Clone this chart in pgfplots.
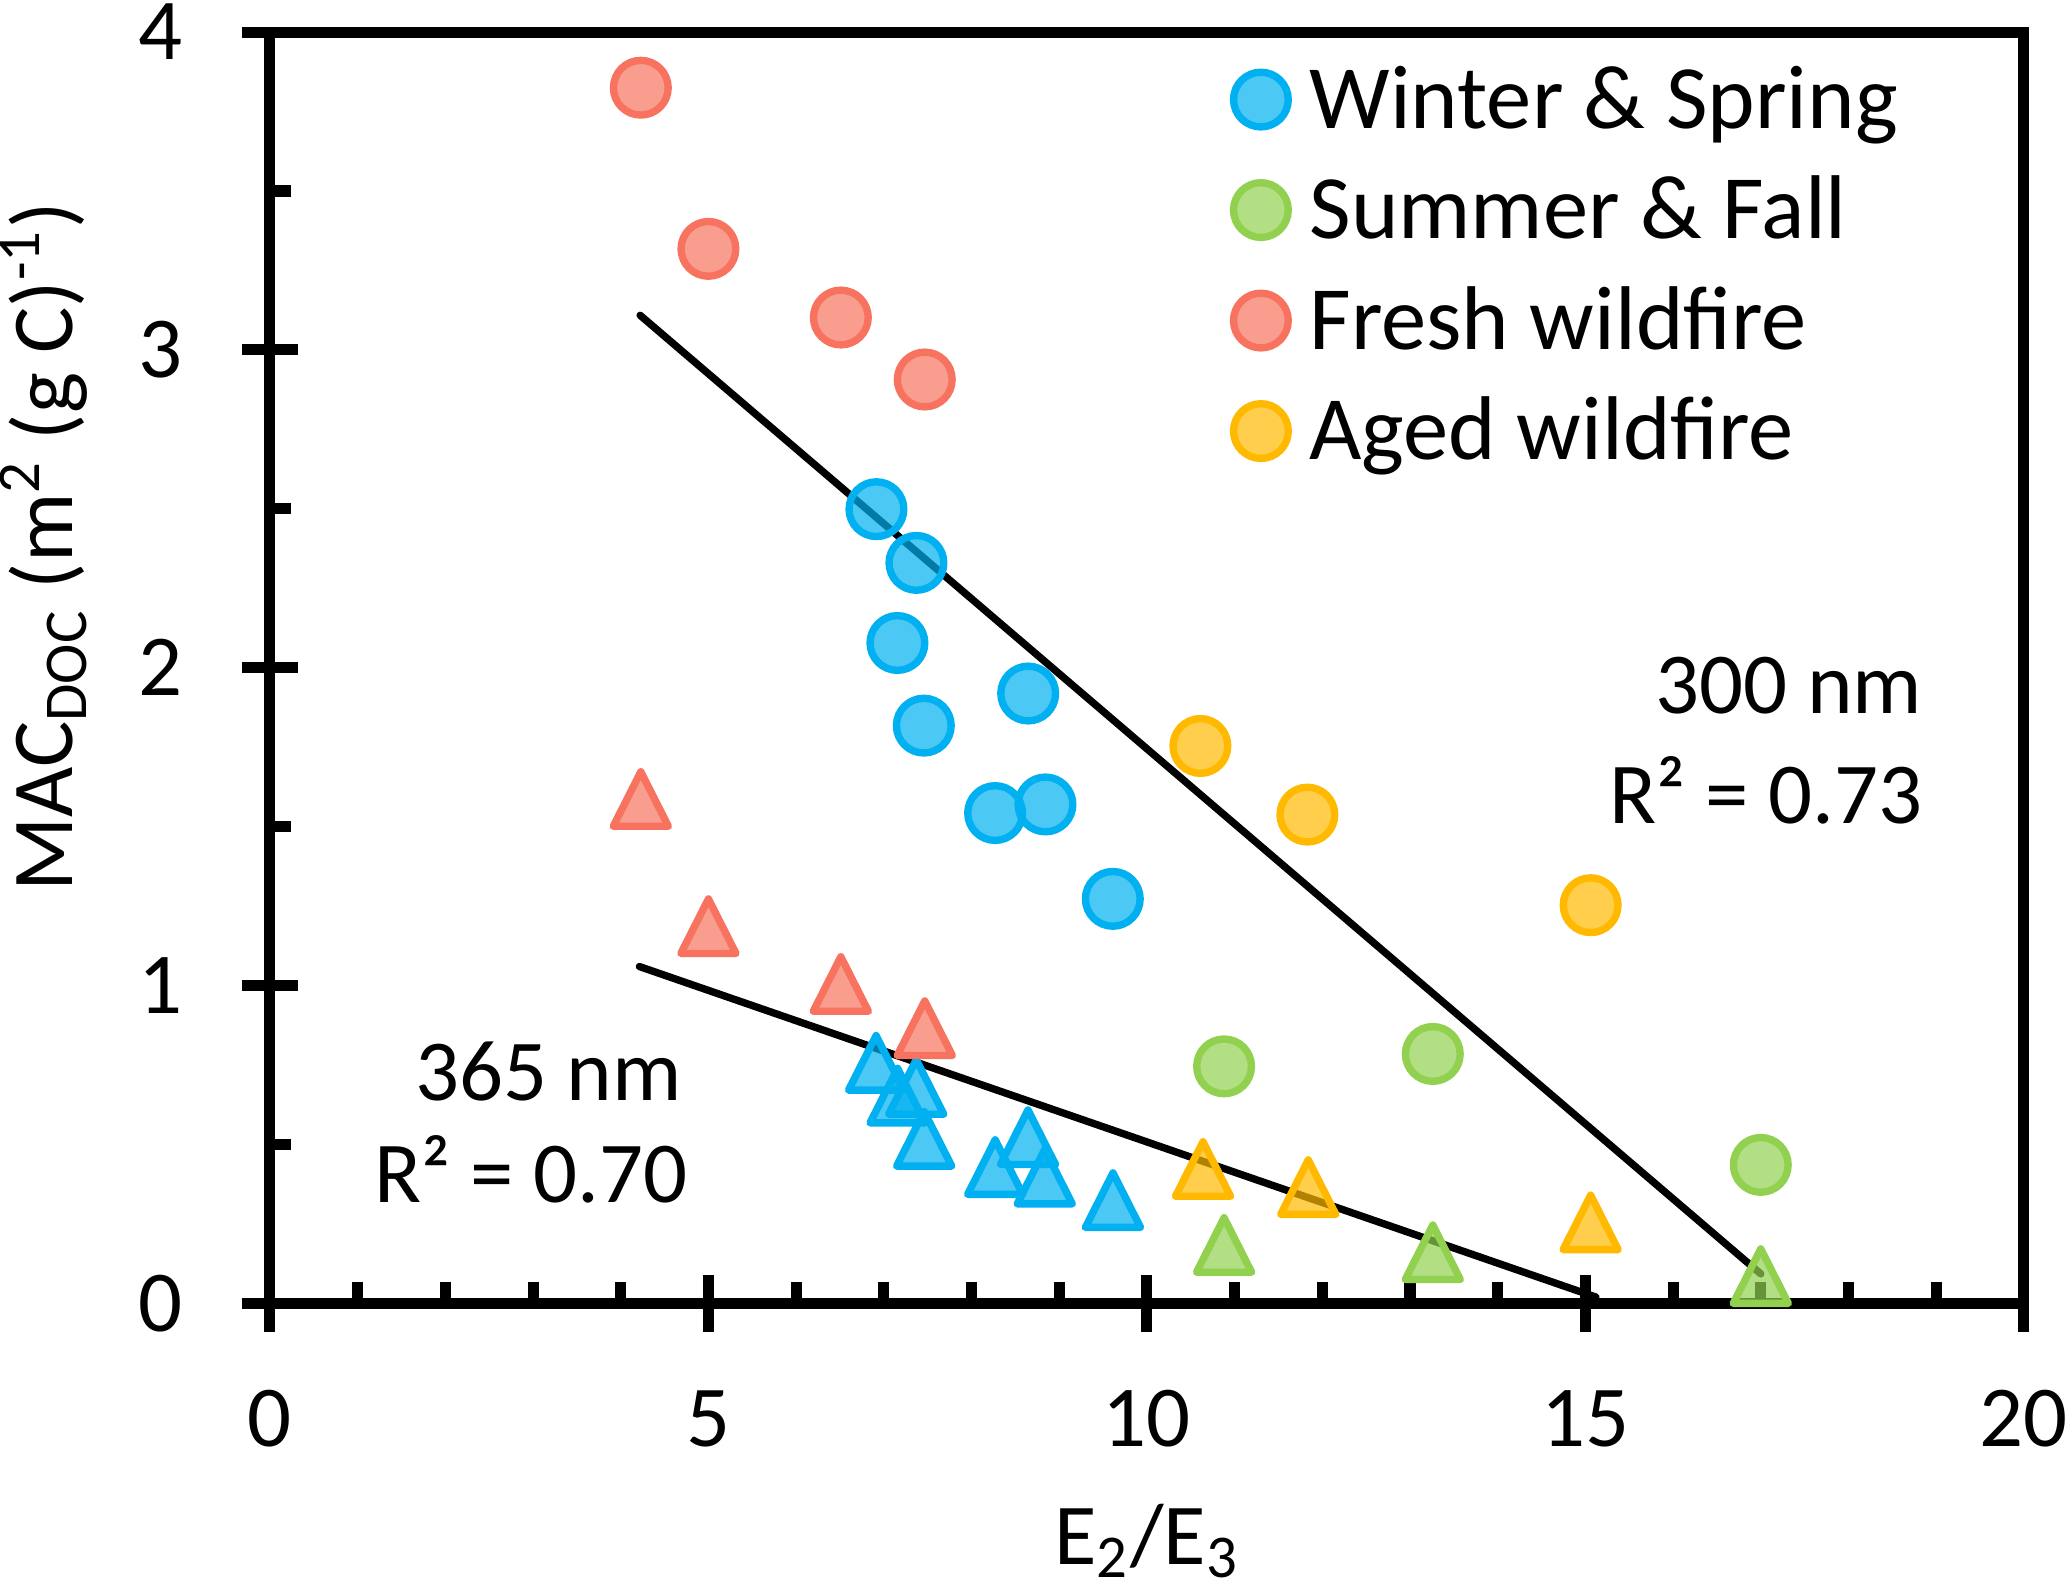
\documentclass[border=0pt]{standalone}
\usepackage{fontspec}
\setmainfont{Carlito}
\usepackage{pgfplots}
\pgfplotsset{compat=1.18}
\definecolor{cw}{HTML}{00B0F0}
\definecolor{cs}{HTML}{92D050}
\definecolor{cf}{HTML}{F7735F}
\definecolor{ca}{HTML}{FFB900}
\pgfdeclareplotmark{ecirc}{\pgfpathcircle{\pgfpointorigin}{5.2bp}\pgfusepathqfillstroke}
\pgfdeclareplotmark{etri}{%
  \pgfpathmoveto{\pgfqpoint{0bp}{5.18bp}}%
  \pgfpathlineto{\pgfqpoint{5.24bp}{-5.18bp}}%
  \pgfpathlineto{\pgfqpoint{-5.24bp}{-5.18bp}}%
  \pgfpathclose\pgfusepathqfillstroke}
\pgfplotsset{
  ser/.style 2 args={only marks, mark=#2,
    mark options={draw=#1, fill=#1, fill opacity=0.7, draw opacity=1, line width=1.4bp, line join=round, solid},
    legend image code/.code={\draw[##1] plot coordinates {(0bp,0bp)};}},
}
\begin{document}
\fontsize{16.5bp}{20bp}\selectfont
\begin{tikzpicture}
\path[use as bounding box] (-51.3bp,-54.4bp) rectangle (341.5bp,247.7bp);
\begin{axis}[
  scale only axis, width=333.3bp, height=241.6bp,
  xmin=0, xmax=20, ymin=0, ymax=4,
  clip=false,
  axis line style={line width=2.1bp, black},
  tick style={line width=2.1bp, black},
  xtick pos=left, ytick pos=left,
  tick align=inside, major tick length=4bp,
  xtick={0,1,...,20},
  xticklabels={0,,,,,5,,,,,10,,,,,15,,,,,20},
  ytick={0,0.5,1,1.5,2,2.5,3,3.5,4},
  yticklabels={0,,1,,2,,3,,4},
  extra x ticks={0,5,10,15,20}, extra x tick labels={},
  extra x tick style={tick align=center, major tick length=10.8bp},
  extra y ticks={0,1,2,3,4}, extra y tick labels={},
  extra y tick style={tick align=center, major tick length=10.8bp},
  /pgf/number format/assume math mode=true,
  every tick label/.append style={font=\fontsize{16.5bp}{20bp}\selectfont},
  xticklabel style={anchor=base, inner sep=0pt, yshift=-27.2bp},
  yticklabel style={anchor=east, inner sep=0pt, xshift=-16.5bp},
  xlabel={E\textsubscript{2}/E\textsubscript{3}},
  ylabel={MAC\textsubscript{DOC} (m\textsuperscript{2} (g C)\textsuperscript{-1})},
  xlabel style={at={(axis description cs:0.5,-0.205)}, anchor=base, inner sep=0pt, font=\fontsize{16.5bp}{20bp}\selectfont},
  ylabel style={at={(axis description cs:-0.1125,0.595)}, anchor=base, inner sep=0pt, font=\fontsize{16.5bp}{20bp}\selectfont},
  legend cell align=left,
  legend style={at={(axis description cs:0.5494,0.9695)}, anchor=north west,
    draw=none, fill=none, inner sep=0pt, outer sep=0pt, row sep=10.1bp,
    font=\fontsize{17.2bp}{20bp}\selectfont,
    nodes={inner sep=0pt, outer sep=0pt, text height=10.9bp, text depth=0pt},
    /tikz/every odd column/.append style={column sep=4.05bp}},
]
% 300 nm (circles)
\addplot[ser={cw}{ecirc}] coordinates {
(6.916,2.499) (7.372,2.330) (7.155,2.078) (8.646,1.919)
(7.456,1.818) (8.269,1.543) (8.843,1.570) (9.611,1.273)};
\addlegendentry{Winter \& Spring}
\addplot[ser={cs}{ecirc}] coordinates {
(10.88,0.746) (13.26,0.785) (17.00,0.436)};
\addlegendentry{Summer \& Fall}
\addplot[ser={cf}{ecirc}] coordinates {
(4.229,3.825) (5.000,3.318) (6.510,3.102) (7.467,2.907)};
\addlegendentry{Fresh wildfire}
\addplot[ser={ca}{ecirc}] coordinates {
(10.61,1.754) (11.83,1.538) (15.06,1.253)};
\addlegendentry{Aged wildfire}
% 365 nm (triangles)
\addplot[ser={cw}{etri}, forget plot] coordinates {
(6.912,0.757) (7.157,0.654) (7.370,0.681) (7.460,0.518)
(8.270,0.429) (8.644,0.523) (8.835,0.399) (9.613,0.325)};
\addplot[ser={cs}{etri}, forget plot] coordinates {
(10.88,0.184) (13.26,0.161) (17.00,0.086)};
\addplot[ser={cf}{etri}, forget plot] coordinates {
(4.229,1.587) (5.000,1.187) (6.510,1.005) (7.467,0.866)};
\addplot[ser={ca}{etri}, forget plot] coordinates {
(10.64,0.423) (11.84,0.366) (15.06,0.255)};
% trend lines
\addplot[black, line width=1.4bp, line cap=round, no marks, forget plot] coordinates {(4.221,3.109) (17.0,0.093)};
\addplot[black, line width=1.4bp, line cap=round, no marks, forget plot] coordinates {(4.213,1.060) (15.12,0.02)};
\node[anchor=base east, inner sep=0pt] at (axis cs:18.854,1.857) {300 nm};
\node[anchor=base east, inner sep=0pt] at (axis cs:18.854,1.511) {R² = 0.73};
\node[anchor=base east, inner sep=0pt] at (axis cs:4.708,0.639) {365 nm};
\node[anchor=base east, inner sep=0pt] at (axis cs:4.77,0.317) {R² = 0.70};
\end{axis}
\end{tikzpicture}
\end{document}
